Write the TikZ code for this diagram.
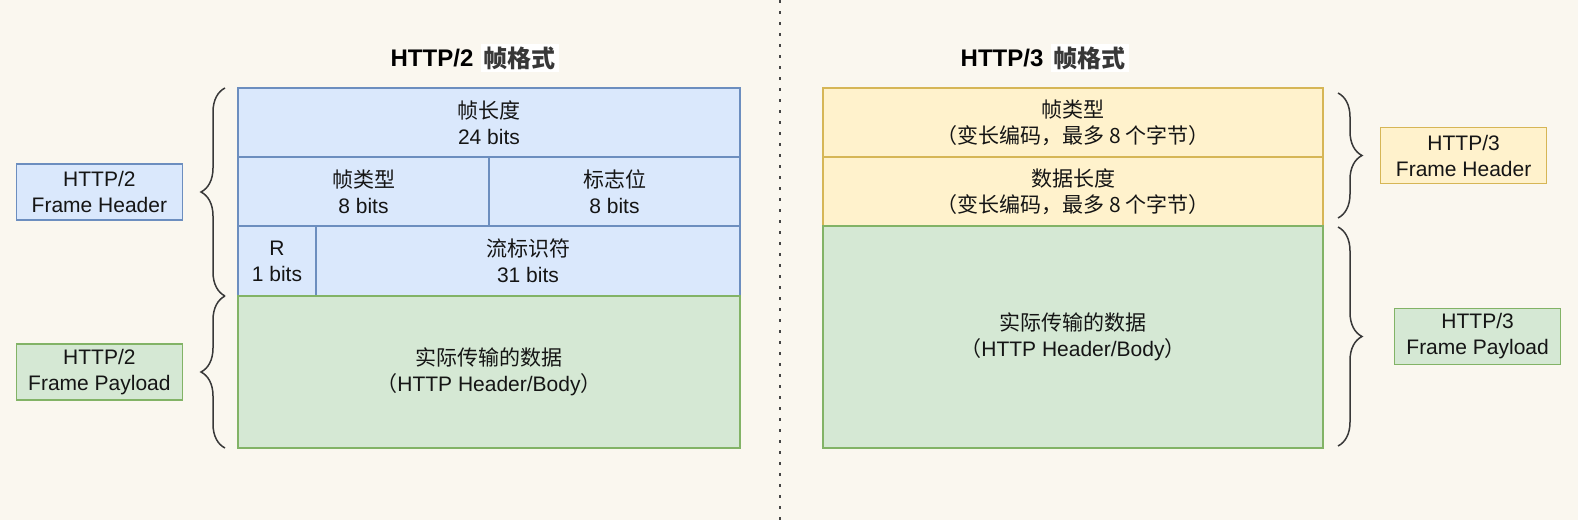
\documentclass[tikz,border=0pt]{standalone}
\usepackage{fontspec}
\setmainfont{Liberation Sans}
\newfontfamily\cjk{Noto Sans CJK SC}
\usetikzlibrary{positioning, decorations.pathreplacing}
\definecolor{pagebg}{HTML}{FAF7EF}
\definecolor{hdrblue}{HTML}{DAE8FC}
\definecolor{hdrbluedraw}{HTML}{6C8EBF}
\definecolor{paygreen}{HTML}{D5E8D4}
\definecolor{paygreendraw}{HTML}{82B366}
\definecolor{hdryellow}{HTML}{FFF2CC}
\definecolor{hdryellowdraw}{HTML}{D6B656}
\definecolor{txtdark}{HTML}{151515}
\newcommand{\zh}[1]{{\cjk #1}}

\begin{document}
\begin{tikzpicture}[
    x=1pt, y=-1pt,
    font=\fontsize{21}{26}\selectfont,
    text=txtdark,
    cell/.style={
        draw, line width=1.2pt, align=center, anchor=north west,
        inner sep=0pt, outer sep=0pt,
    },
    bluecell/.style={cell, draw=hdrbluedraw, fill=hdrblue},
    greencell/.style={cell, draw=paygreendraw, fill=paygreen},
    yellowcell/.style={cell, draw=hdryellowdraw, fill=hdryellow},
    tag/.style={
        draw, line width=1.2pt, align=center, inner sep=0pt,
        minimum width=166pt, minimum height=56pt,
    },
    title/.style={font=\fontsize{24}{28}\selectfont\bfseries, text=black, inner sep=2pt},
    titlezh/.style={font=\fontsize{24}{28}\selectfont\bfseries, text=txtdark!85, fill=white, inner sep=3pt},
    brace/.style={decorate, decoration={brace, amplitude=24pt}, draw=txtdark!85, line width=1.5pt},
]

% page and bounding box
\fill[pagebg] (0,0) rectangle (1578,520);
\useasboundingbox (0,0) rectangle (1578,520);

% separator
\draw[txtdark!80, line width=2.6pt, dash pattern=on 2.6pt off 8.4pt] (780,0) -- (780,520);

% HTTP/2 frame
\node[title] (h2title) at (432,58) {HTTP/2};
\node[titlezh, right=5pt of h2title] (h2titlezh) {\zh{帧格式}};

\node[bluecell, minimum width=502pt, minimum height=69pt] (h2len) at (238,88) {\zh{帧长度}\\24 bits};
\node[bluecell, minimum width=251pt, minimum height=69pt] (h2type) at (h2len.south west) {\zh{帧类型}\\8 bits};
\node[bluecell, minimum width=251pt, minimum height=69pt] (h2flag) at (h2type.north east) {\zh{标志位}\\8 bits};
\node[bluecell, minimum width=78pt, minimum height=70pt] (h2r) at (h2type.south west) {R\\1 bits};
\node[bluecell, minimum width=424pt, minimum height=70pt] (h2sid) at (h2r.north east) {\zh{流标识符}\\31 bits};
\node[greencell, minimum width=502pt, minimum height=152pt] (h2pay) at (h2r.south west)
    {\zh{实际传输的数据}\\\zh{（}HTTP Header/Body\zh{）}};

% HTTP/2 braces and tags
\draw[brace] ([xshift=-13pt]h2pay.north west) -- ([xshift=-13pt]h2len.north west)
    coordinate[midway, xshift=-26pt] (h2hdrtip);
\draw[brace] ([xshift=-13pt]h2pay.south west) -- ([xshift=-13pt]h2pay.north west)
    coordinate[midway, xshift=-26pt] (h2paytip);
\node[tag, draw=hdrbluedraw, fill=hdrblue, left=16pt of h2hdrtip] (h2hdrtag) {HTTP/2\\Frame Header};
\node[tag, draw=paygreendraw, fill=paygreen, left=16pt of h2paytip] (h2paytag) {HTTP/2\\Frame Payload};

% HTTP/3 frame
\node[title] (h3title) at (1002,58) {HTTP/3};
\node[titlezh, right=5pt of h3title] (h3titlezh) {\zh{帧格式}};

\node[yellowcell, minimum width=500pt, minimum height=69pt] (h3type) at (823,88)
    {\zh{帧类型}\\\zh{（变长编码，最多 8 个字节）}};
\node[yellowcell, minimum width=500pt, minimum height=69pt] (h3len) at (h3type.south west)
    {\zh{数据长度}\\\zh{（变长编码，最多 8 个字节）}};
\node[greencell, minimum width=500pt, minimum height=222pt] (h3pay) at (h3len.south west)
    {\zh{实际传输的数据}\\\zh{（}HTTP Header/Body\zh{）}};

% HTTP/3 braces and tags
\draw[brace] ([xshift=15pt, yshift=-5pt]h3type.north east) -- ([xshift=15pt, yshift=8pt]h3len.south east)
    coordinate[midway, xshift=26pt] (h3hdrtip);
\draw[brace] ([xshift=15pt, yshift=-1pt]h3pay.north east) -- ([xshift=15pt, yshift=2pt]h3pay.south east)
    coordinate[midway, xshift=26pt] (h3paytip);
\node[tag, draw=hdryellowdraw, fill=hdryellow, right=16pt of h3hdrtip] (h3hdrtag) {HTTP/3\\Frame Header};
\node[tag, draw=paygreendraw, fill=paygreen, right=30pt of h3paytip] (h3paytag) {HTTP/3\\Frame Payload};

\end{tikzpicture}
\end{document}
